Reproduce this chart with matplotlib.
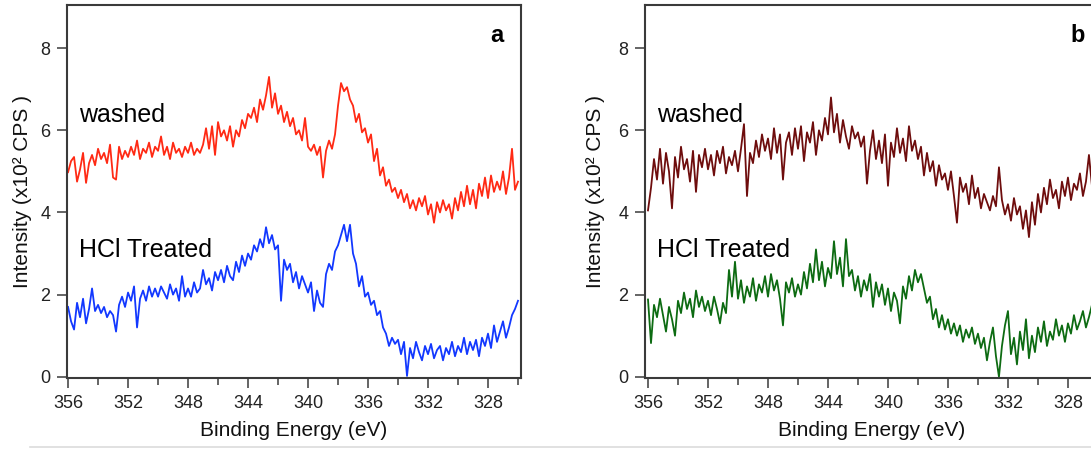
import numpy as np
import matplotlib.pyplot as plt
from matplotlib.lines import Line2D

plt.rcParams['font.family'] = ['Liberation Sans', 'DejaVu Sans']

# ============================================================
# Dados (Intensidade em x10^2 CPS)
# ============================================================

# grade de energia de ligacao do espectro (eV), passo 0.2 eV
energia = np.round(np.arange(356.0, 325.9, -0.2), 1)

# painel a - amostra lavada
lavado_a = [
    4.98, 5.25, 5.35, 4.75, 5.05, 5.45, 4.72, 5.20, 5.40, 5.15,
    5.55, 5.30, 5.45, 5.20, 5.65, 4.85, 4.80, 5.60, 5.30, 5.50,
    5.35, 5.60, 5.40, 5.75, 5.30, 5.55, 5.45, 5.70, 5.35, 5.60,
    5.50, 5.85, 5.40, 5.60, 5.30, 5.70, 5.45, 5.55, 5.35, 5.60,
    5.45, 5.70, 5.40, 5.55, 5.45, 5.65, 6.05, 5.55, 6.10, 5.40,
    6.20, 5.85, 6.00, 5.75, 6.10, 5.60, 6.00, 5.85, 6.25, 6.05,
    6.40, 6.30, 6.55, 6.20, 6.75, 6.50, 6.85, 7.30, 6.55, 6.90,
    6.40, 6.60, 6.20, 6.45, 6.10, 6.30, 5.90, 6.00, 5.75, 6.30,
    5.60, 5.50, 5.65, 5.40, 5.60, 4.85, 5.50, 5.75, 5.55, 5.90,
    6.60, 7.15, 6.95, 7.05, 6.75, 6.60, 6.20, 6.40, 5.95, 6.05,
    5.70, 5.90, 5.25, 5.55, 4.90, 5.10, 4.65, 4.80, 4.50, 4.60,
    4.35, 4.55, 4.25, 4.45, 4.10, 4.30, 4.05, 4.35, 4.15, 4.40,
    3.95, 4.20, 3.75, 4.25, 4.00, 4.30, 4.05, 4.20, 3.85, 4.35,
    4.05, 4.50, 4.15, 4.65, 4.20, 4.55, 4.10, 4.70, 4.40, 4.85,
    4.35, 4.90, 4.50, 4.75, 4.55, 5.00, 4.45, 4.85, 5.55, 4.55,
    4.75,
]

# painel a - tratada com HCl
hcl_a = [
    1.70, 1.35, 1.15, 1.80, 1.45, 1.90, 1.30, 1.65, 2.15, 1.60,
    1.75, 1.55, 1.70, 1.45, 1.60, 1.50, 1.10, 1.75, 1.95, 1.70,
    2.05, 1.85, 2.20, 1.20, 1.90, 2.10, 1.85, 2.20, 1.95, 2.15,
    1.95, 2.20, 2.05, 1.90, 2.25, 2.00, 2.15, 1.85, 2.45, 1.95,
    2.15, 1.95, 2.30, 2.05, 2.15, 2.60, 2.25, 2.40, 2.10, 2.55,
    2.35, 2.60, 2.30, 2.70, 2.45, 2.35, 2.80, 2.55, 2.95, 2.70,
    3.00, 2.85, 3.20, 3.05, 3.35, 3.15, 3.64, 3.25, 3.45, 3.10,
    3.20, 1.85, 2.85, 2.60, 2.75, 2.30, 2.55, 2.15, 2.45, 2.25,
    2.05, 2.30, 1.60, 2.10, 1.80, 1.70, 2.50, 2.75, 2.60, 3.05,
    3.20, 3.45, 3.70, 3.30, 3.70, 3.00, 2.75, 2.20, 2.45, 1.95,
    2.05, 1.75, 1.85, 1.50, 1.60, 1.20, 1.05, 0.75, 0.95, 0.80,
    0.90, 0.55, 0.85, 0.02, 0.70, 0.45, 0.85, 0.60, 0.40, 0.75,
    0.55, 0.80, 0.45, 0.65, 0.75, 0.40, 0.70, 0.55, 0.85, 0.50,
    0.75, 0.60, 0.95, 0.55, 0.85, 0.65, 0.90, 0.50, 0.95, 0.75,
    1.05, 0.70, 1.25, 0.85, 1.10, 1.35, 0.95, 1.20, 1.50, 1.65,
    1.85,
]

# painel b - amostra lavada
lavado_b = [
    4.05, 4.60, 5.30, 4.80, 5.55, 4.70, 5.45, 5.00, 4.10, 5.35,
    4.85, 5.60, 5.05, 5.30, 4.75, 5.50, 4.50, 5.40, 5.10, 5.55,
    5.05, 5.40, 4.90, 5.50, 5.20, 5.60, 4.95, 5.35, 5.15, 5.50,
    5.00, 5.55, 6.15, 4.40, 5.45, 5.20, 5.75, 5.35, 5.90, 5.50,
    5.80, 5.30, 6.05, 5.45, 5.90, 4.80, 5.70, 5.95, 5.40, 6.05,
    5.55, 6.10, 5.25, 5.95, 5.70, 6.20, 5.40, 6.00, 5.75, 6.30,
    5.90, 6.80, 5.95, 6.40, 5.70, 6.25, 5.85, 5.55, 6.10, 5.80,
    5.95, 5.60, 5.85, 4.70, 5.50, 6.00, 5.30, 5.75, 5.20, 5.90,
    4.65, 5.70, 5.35, 6.05, 5.45, 5.80, 5.25, 6.10, 5.50, 5.75,
    5.30, 5.60, 4.90, 5.45, 5.00, 5.25, 4.65, 5.15, 4.80, 4.95,
    4.55, 5.00, 4.40, 3.75, 4.85, 4.50, 4.70, 4.20, 4.90, 4.35,
    4.60, 4.10, 4.45, 4.25, 4.05, 4.40, 4.15, 5.10, 4.30, 3.95,
    4.20, 3.80, 4.35, 3.95, 4.15, 3.60, 4.05, 3.40, 4.25, 3.70,
    4.45, 4.00, 4.60, 4.20, 4.80, 4.35, 4.55, 4.10, 4.75, 4.40,
    4.85, 4.30, 4.70, 4.55, 4.95, 4.40, 4.75, 5.40, 4.65, 4.80,
    4.70,
]

# painel b - tratada com HCl
hcl_b = [
    1.88, 0.82, 1.75, 1.45, 1.90, 1.50, 1.10, 1.70, 1.40, 1.00,
    1.85, 1.55, 2.05, 1.65, 1.90, 1.45, 2.10, 1.70, 1.95, 1.60,
    1.85, 1.50, 1.95, 1.65, 1.30, 1.80, 1.55, 2.60, 1.95, 2.80,
    1.90, 2.35, 1.80, 2.20, 1.95, 2.40, 1.85, 2.25, 2.05, 2.45,
    1.95, 2.50, 2.10, 2.35, 1.90, 1.25, 2.30, 2.05, 2.40, 1.95,
    2.25, 2.00, 2.55, 2.15, 2.75, 2.30, 3.10, 2.35, 2.80, 2.20,
    2.65, 2.40, 3.30, 2.50, 2.90, 2.20, 3.35, 2.45, 2.60, 2.10,
    2.45, 1.95, 2.35, 2.10, 2.50, 1.70, 2.30, 1.95, 2.25, 1.75,
    2.15, 1.60, 2.05, 1.85, 1.30, 2.20, 1.90, 2.45, 2.10, 2.60,
    2.30, 2.50, 2.15, 1.80, 1.95, 1.40, 1.65, 1.20, 1.50, 1.15,
    1.40, 1.05, 1.30, 1.00, 1.25, 0.85, 1.15, 0.95, 1.20, 0.80,
    1.05, 0.70, 0.95, 0.40, 0.85, 1.20, 0.50, 0.00, 0.75, 1.25,
    1.60, 0.55, 0.95, 0.30, 1.10, 0.65, 1.40, 0.45, 1.00, 0.60,
    1.20, 0.85, 1.35, 0.75, 1.10, 0.90, 1.40, 1.00, 1.25, 0.85,
    1.30, 1.05, 1.50, 1.15, 1.35, 1.60, 1.20, 1.45, 1.75, 1.40,
    1.65,
]

rotulos = ["washed", "HCl Treated"]
xticks_maior = [356, 352, 348, 344, 340, 336, 332, 328]
xticks_menor = [354, 350, 346, 342, 338, 334, 330, 326]
yticks = [0, 2, 4, 6, 8]

# ============================================================
# Figura
# ============================================================
W, H = 1091, 450
fig = plt.figure(figsize=(W / 100, H / 100), dpi=100)
fig.patch.set_facecolor("white")

cor_eixo = "#3a3a3a"


def painel(left_px, xlim, curvas, letra, letra_x):
    ax = fig.add_axes([left_px / W, 72 / H, 454 / W, 373 / H])
    for y, cor in curvas:
        ax.plot(energia, y, color=cor, lw=1.3)
    ax.set_xlim(*xlim)
    ax.set_ylim(-0.03, 9.05)
    ax.set_xticks(xticks_maior)
    ax.set_xticks(xticks_menor, minor=True)
    ax.set_yticks(yticks)
    ax.tick_params(which="both", direction="out", width=1.1,
                   color=cor_eixo, labelsize=13, labelcolor="#222222")
    ax.tick_params(which="major", length=7, pad=5)
    ax.tick_params(which="minor", length=5)
    for s in ax.spines.values():
        s.set_linewidth(1.5)
        s.set_color(cor_eixo)
    ax.set_xlabel("Binding Energy (eV)", fontsize=15, color="#111111")
    ax.set_ylabel("Intensity (x10² CPS )", fontsize=15, color="#111111")
    ax.xaxis.set_label_coords(0.5, -0.115)

    x0 = left_px + 12
    fig.text(x0 / W, 1 - 121.7 / H, rotulos[0], fontsize=18)
    fig.text(x0 / W, 1 - 257 / H, rotulos[1], fontsize=18)
    fig.text(letra_x / W, 1 - 41.7 / H, letra, fontsize=17, fontweight="bold")
    return ax


ax_a = painel(67, (356.07, 325.8), [(lavado_a, "#ff2a14"), (hcl_a, "#1238ff")],
              "a", 490)
ax_a.yaxis.set_label_coords(-0.077, 0.5)

ax_b = painel(645, (356.2, 325.93), [(lavado_b, "#6e0d0d"), (hcl_b, "#0d6b12")],
              "b", 1070)
ax_b.yaxis.set_label_coords(-0.088, 0.5)

# linha cinza clara no rodape
fig.add_artist(Line2D([30 / W, 1], [1 - 447 / H] * 2, color="#dcdcdc", lw=1.2))

fig.savefig("out.png", dpi=100)
